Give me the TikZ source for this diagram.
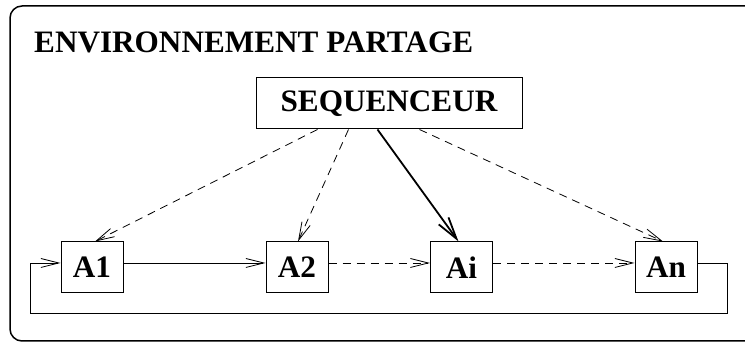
\documentclass[tikz,border=0pt]{standalone}
\usepackage{fontspec}
\setmainfont{Liberation Serif}
\tikzset{every picture/.style={/utils/exec={\bfseries\fontsize{31.2}{36}\selectfont}}}
\usetikzlibrary{calc}
\usetikzlibrary{arrows.meta}
\tikzset{
  agent/.style={draw,line width=1pt,minimum width=62pt,minimum height=51pt,inner sep=0pt},
  fleche/.style={-{Straight Barb[length=18pt,width=9pt]},line width=0.8pt},
  tirets/.style={fleche,dash pattern=on 8pt off 6pt},
}

\begin{document}
\begin{tikzpicture}[x=1pt,y=-1pt]
  \useasboundingbox (0,0) rectangle (745,344);

  \draw [line width=1.5pt,rounded corners=12pt] (10,6) rectangle (775,341);
  \node [anchor=base west,inner sep=0pt] (titre) at (34,53) {ENVIRONNEMENT PARTAGE};

  \node [agent,minimum width=266pt] (seq) at (389,103.5) {SEQUENCEUR};
  \node [agent] (a1) at (92,267.5) {A1};
  \node [agent] (a2) at (297,267.5) {A2};
  \node [agent] (ai) at (461.5,267.5) {Ai};
  \node [agent] (an) at (666,267.5) {An};

  % anneau des agents
  \draw [fleche] ([yshift=4.5pt]a1.east) -- ([yshift=4.5pt]a2.west);
  \draw [tirets] ([yshift=4.5pt]a2.east) -- ([yshift=4.5pt]ai.west);
  \draw [tirets] ([yshift=4.5pt]ai.east) -- ([yshift=4.5pt]an.west);
  \coordinate (retour) at (727,313);
  \draw [fleche] ([yshift=4.5pt]an.east) -| (retour) -| ($(a1.west)+(-30,-4.5)$) -- ([yshift=4.5pt]a1.west);

  % activation par le sequenceur
  \draw [tirets] ([xshift=62pt]seq.south west) -- ([xshift=3pt]a1.north);
  \draw [tirets] ([xshift=93pt]seq.south west) -- ([xshift=1pt]a2.north);
  \draw [-{Straight Barb[length=22pt,width=12pt]},line width=1.8pt] ([xshift=122pt]seq.south west) -- ([xshift=-3pt]ai.north);
  \draw [tirets] ([xshift=164pt]seq.south west) -- ([xshift=-3pt]an.north);
\end{tikzpicture}
\end{document}
